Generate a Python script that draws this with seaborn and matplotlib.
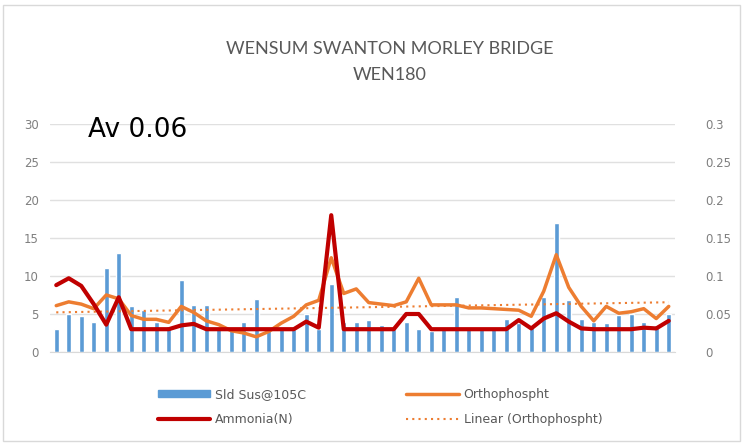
import numpy as np
import pandas as pd
import seaborn as sns
import matplotlib
matplotlib.use("Agg")
import matplotlib.pyplot as plt
from matplotlib.patches import Rectangle, Patch
from matplotlib.lines import Line2D

# Data (50 samples)
sld_sus = [3, 5, 4.7, 4, 11, 13, 6, 5.5, 4, 3.4, 9.5, 6.2, 6.2, 3, 3, 4, 7, 3, 3, 3,
           5, 3, 9, 4, 4, 4.2, 3.5, 3, 4, 3, 2.7, 3, 7.3, 3, 3, 3, 4.4, 3.8, 3.5, 7.3,
           17, 6.8, 4.4, 4, 3.8, 4.9, 5, 4, 3.5, 5]
ortho = [0.061, 0.066, 0.063, 0.057, 0.075, 0.07, 0.048, 0.043, 0.043, 0.039,
         0.06, 0.052, 0.041, 0.036, 0.028, 0.025, 0.02, 0.027, 0.038, 0.047,
         0.062, 0.068, 0.124, 0.077, 0.083, 0.065, 0.063, 0.061, 0.066, 0.097,
         0.062, 0.062, 0.062, 0.058, 0.058, 0.057, 0.056, 0.055, 0.047, 0.08,
         0.128, 0.085, 0.06, 0.041, 0.06, 0.051, 0.053, 0.057, 0.044, 0.06]
ammonia = [0.088, 0.097, 0.087, 0.063, 0.036, 0.072, 0.03, 0.03, 0.03, 0.03,
           0.035, 0.037, 0.03, 0.03, 0.03, 0.03, 0.03, 0.03, 0.03, 0.03,
           0.04, 0.032, 0.18, 0.03, 0.03, 0.03, 0.03, 0.03, 0.05, 0.05,
           0.03, 0.03, 0.03, 0.03, 0.03, 0.03, 0.03, 0.042, 0.031, 0.044,
           0.051, 0.04, 0.031, 0.03, 0.03, 0.03, 0.03, 0.032, 0.031, 0.041]

title = "WENSUM SWANTON MORLEY BRIDGE\nWEN180"
note = "Av 0.06"

blue = "#5B9BD5"
orange = "#ED7D31"
red = "#C00000"
grey = "#595959"
light = "#7F7F7F"

x = np.arange(len(sld_sus))
df = pd.DataFrame({"x": x, "sld": sld_sus, "ortho": ortho, "nh3": ammonia})
slope, icpt = np.polyfit(x, ortho, 1)
df["trend"] = slope * x + icpt

sns.set_style("white")
fig = plt.figure(figsize=(7.44, 4.44), dpi=100)
ax = fig.add_axes([50 / 744, 92 / 444, 625 / 744, 228 / 444])

sns.barplot(data=df, x="x", y="sld", color=blue, width=0.38, saturation=1, ax=ax, zorder=2)
ax.set_xlim(-0.5, len(x) - 0.5)
ax.set_ylim(0, 30)
ax.set_yticks(range(0, 31, 5))
ax.yaxis.grid(True, color="#E0E0E0", lw=1, zorder=0)
ax.set_axisbelow(True)
ax.set_xticks([])
ax.set_xlabel("")
ax.set_ylabel("")
for s in ["top", "left", "right"]:
    ax.spines[s].set_visible(False)
ax.spines["bottom"].set_color("#D9D9D9")
ax.tick_params(axis="y", length=0, labelsize=8.5, labelcolor=light, pad=8)

ax2 = ax.twinx()
sns.lineplot(data=df, x="x", y="trend", color=orange, lw=1.5, linestyle=(0, (1, 2)), ax=ax2)
sns.lineplot(data=df, x="x", y="ortho", color=orange, lw=2.5, ax=ax2)
sns.lineplot(data=df, x="x", y="nh3", color=red, lw=3, ax=ax2)
ax2.set_ylim(0, 0.3)
ax2.set_yticks([0, 0.05, 0.1, 0.15, 0.2, 0.25, 0.3])
ax2.set_yticklabels(["0", "0.05", "0.1", "0.15", "0.2", "0.25", "0.3"])
ax2.set_xlim(-0.5, len(x) - 0.5)
ax2.set_xlabel("")
ax2.set_ylabel("")
for s in ["top", "left", "right", "bottom"]:
    ax2.spines[s].set_visible(False)
ax2.tick_params(axis="y", length=0, labelsize=8.5, labelcolor=light, pad=22)

fig.text(390 / 744, 1 - 62 / 444, title, ha="center", va="center",
         fontsize=13, color=grey, family="Lato", linespacing=1.8)
fig.text(88 / 744, 1 - 130 / 444, note, ha="left", va="center", fontsize=19, color="black")

handles = [Patch(color=blue), Line2D([], [], color=red, lw=3),
           Line2D([], [], color=orange, lw=2.5),
           Line2D([], [], color=orange, lw=1.5, linestyle=(0, (1, 2)))]
labels = ["Sld Sus@105C", "Ammonia(N)", "Orthophospht", "Linear (Orthophospht)"]
fig.legend(handles, labels, ncol=2, loc="center", bbox_to_anchor=(380 / 744, 1 - 407 / 444),
           frameon=False, fontsize=9, labelcolor=grey, columnspacing=8,
           handlelength=4.2, handleheight=0.5, handletextpad=0.4, labelspacing=1.0)

fig.patches.append(Rectangle((3 / 744, 3 / 444), 737 / 744, 436 / 444, transform=fig.transFigure,
                             fill=False, edgecolor="#D9D9D9", lw=1))

fig.savefig("out.png", dpi=100)
